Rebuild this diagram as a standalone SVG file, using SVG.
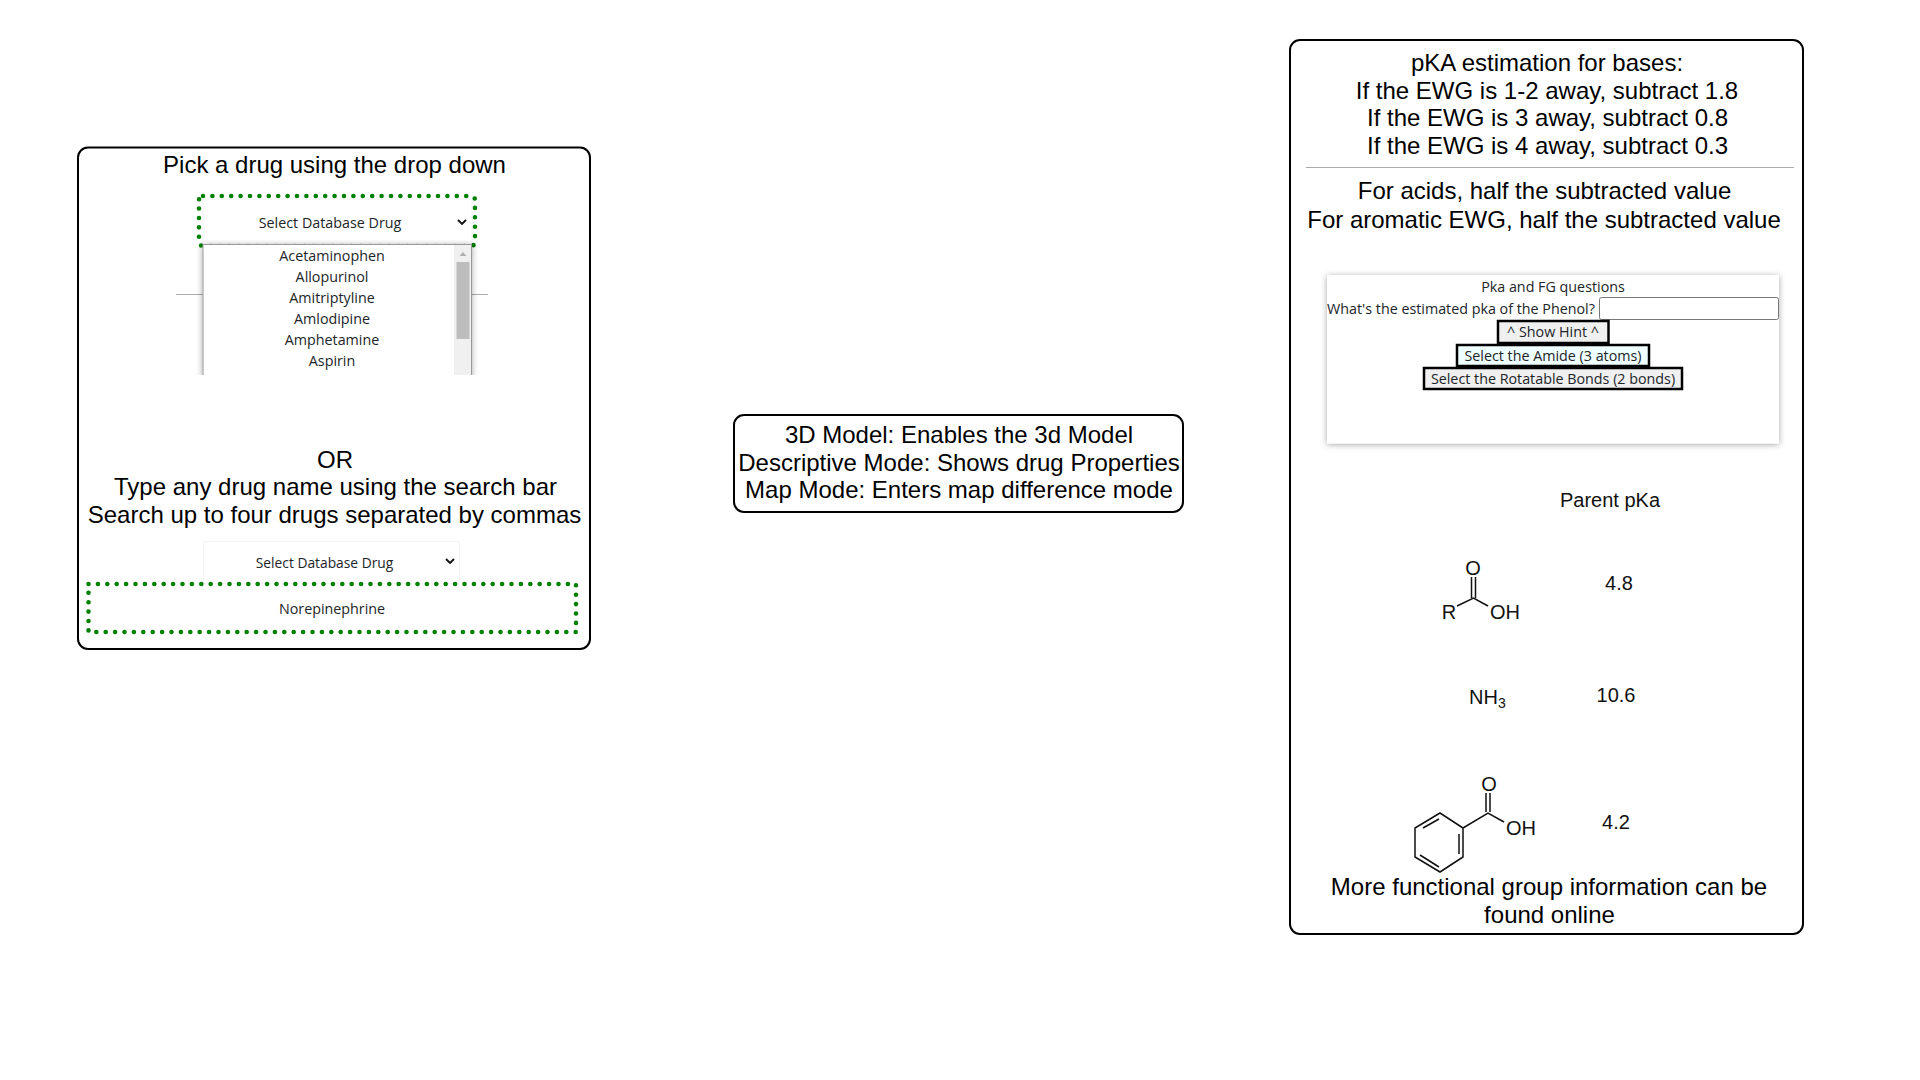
<svg xmlns="http://www.w3.org/2000/svg" width="1920" height="1080" viewBox="0 0 1920 1080">
<style>
.panel{fill:#fff;stroke:#000;stroke-width:2}
.t{font-family:"Liberation Sans",Arial,sans-serif;font-size:24px;fill:#000;text-anchor:middle}
.u{font-family:"Open Sans","Noto Sans",sans-serif;font-size:14.3px;fill:#212529;text-anchor:middle}
.c{font-family:"Liberation Sans",Arial,sans-serif;font-size:20px;fill:#111;text-anchor:middle}
.dot{fill:none;stroke:#008000;stroke-width:4.6;stroke-linecap:round;stroke-dasharray:0 9.4}
.btn{stroke:#000;stroke-width:2.5;fill:#f0f0f0}
.b{fill:none;stroke:#111;stroke-width:1.5}
.hr{stroke:#aaa;stroke-width:1;fill:none}
.chev{fill:none;stroke:#111;stroke-width:1.8}
</style>
<defs>
<filter id="sh" x="-10%" y="-10%" width="120%" height="120%"><feDropShadow dx="0" dy="1" stdDeviation="3" flood-color="#000" flood-opacity="0.35"/></filter>
<clipPath id="ddclip"><rect x="180" y="240" width="310" height="135"/></clipPath>
</defs>

<g id="drug-panel">
<rect class="panel" x="78" y="147.500" width="512" height="501.500" rx="10"/>
<text class="t" x="334.500" y="173">Pick a drug using the drop down</text>
<line class="hr" x1="176" y1="294.500" x2="488" y2="294.500"/>
<rect x="203" y="199" width="269" height="46" fill="#fff" stroke="#f2f2f2"/>
<rect class="dot" x="199" y="196" width="276" height="50" rx="4"/>
<text class="u" x="330" y="228">Select Database Drug</text>
<path class="chev" d="M458 220l4 4 4-4"/>
<g clip-path="url(#ddclip)">
<rect x="203" y="244.500" width="268.500" height="150" fill="#fff" stroke="#999" stroke-width="1" filter="url(#sh)"/>
<rect x="454" y="245" width="17" height="140" fill="#f0f0f0"/>
<rect x="456.500" y="262" width="13" height="77" fill="#bdbdbd"/>
<path d="M459.500 256l3.500-4 3.500 4z" fill="#b0b0b0"/>
</g>
<text class="u" x="332" y="261">Acetaminophen</text>
<text class="u" x="332" y="282">Allopurinol</text>
<text class="u" x="332" y="303">Amitriptyline</text>
<text class="u" x="332" y="324">Amlodipine</text>
<text class="u" x="332" y="345">Amphetamine</text>
<text class="u" x="332" y="366">Aspirin</text>
<text class="t" x="335" y="468">OR</text>
<text class="t" x="335.500" y="495">Type any drug name using the search bar</text>
<text class="t" x="334.500" y="523">Search up to four drugs separated by commas</text>
<rect x="203.500" y="541.500" width="256" height="42" fill="#fff" stroke="#f4f4f4"/>
<text class="u" x="324.500" y="568" style="font-size:13.8px">Select Database Drug</text>
<path class="chev" d="M446 559l4 4 4-4"/>
<rect class="dot" x="88.500" y="584" width="487.500" height="48"/>
<text class="u" x="332" y="614">Norepinephrine</text>
</g>

<g id="modes-panel">
<rect class="panel" x="734" y="415" width="449" height="97" rx="10"/>
<text class="t" x="959" y="443">3D Model: Enables the 3d Model</text>
<text class="t" x="959" y="471">Descriptive Mode: Shows drug Properties</text>
<text class="t" x="959" y="498">Map Mode: Enters map difference mode</text>
</g>

<g id="pka-panel">
<rect class="panel" x="1290" y="40" width="513" height="894" rx="10"/>
<text class="t" x="1547" y="71">pKA estimation for bases:</text>
<text class="t" x="1547" y="99">If the EWG is 1-2 away, subtract 1.8</text>
<text class="t" x="1547.500" y="126">If the EWG is 3 away, subtract 0.8</text>
<text class="t" x="1547.500" y="154">If the EWG is 4 away, subtract 0.3</text>
<line class="hr" x1="1306" y1="167.500" x2="1794" y2="167.500"/>
<text class="t" x="1544.500" y="199">For acids, half the subtracted value</text>
<text class="t" x="1544" y="228">For aromatic EWG, half the subtracted value</text>

<g id="question-card">
<rect x="1327" y="275" width="452" height="168.500" fill="#fff" filter="url(#sh)"/>
<text class="u" x="1553" y="292">Pka and FG questions</text>
<text class="u" x="1461" y="314">What's the estimated pka of the Phenol?</text>
<rect x="1599.500" y="297.500" width="179" height="22" rx="2" fill="#fff" stroke="#777"/>
<rect class="btn" x="1498" y="321" width="110.500" height="22"/>
<text class="u" x="1553" y="337">^ Show Hint ^</text>
<rect class="btn" x="1457" y="345" width="192" height="21" style="fill:#f0ffff"/>
<text class="u" x="1553" y="361">Select the Amide (3 atoms)</text>
<rect class="btn" x="1424" y="368" width="258" height="21"/>
<text class="u" x="1553" y="384">Select the Rotatable Bonds (2 bonds)</text>
</g>

<text class="c" x="1610" y="507">Parent pKa</text>

<g id="acid">
<path class="b" d="M1471.500 577V598M1475.500 577V598M1457 606L1473.500 598L1488 606"/>
<text class="c" x="1473" y="575">O</text>
<text class="c" x="1449" y="619">R</text>
<text class="c" x="1505" y="619">OH</text>
</g>
<text class="c" x="1619" y="590">4.8</text>

<g id="ammonia">
<text class="c" x="1469" y="704" style="text-anchor:start">NH<tspan dy="4" font-size="14">3</tspan></text>
</g>
<text class="c" x="1616" y="702">10.6</text>

<g id="benzoic">
<path class="b" d="M1440 813L1463 828V857L1440 872L1415 857V828ZM1423 828L1439 819M1459 834V854M1420 855L1439 867M1463 828L1488 813L1504 822M1486 793V812M1490 793V812"/>
<text class="c" x="1489" y="791">O</text>
<text class="c" x="1521" y="835">OH</text>
</g>
<text class="c" x="1616" y="829">4.2</text>

<text class="t" x="1549" y="895">More functional group information can be</text>
<text class="t" x="1549.500" y="923">found online</text>
</g>
</svg>
